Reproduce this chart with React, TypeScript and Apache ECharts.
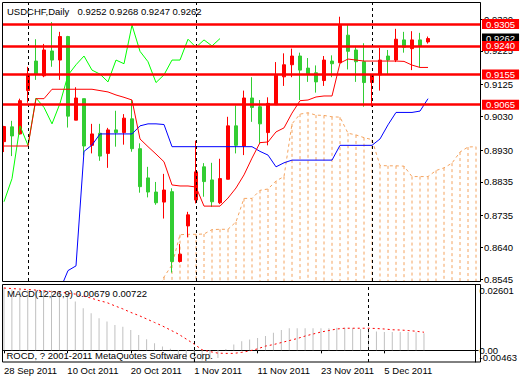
import React, { useEffect, useRef } from "react";
import * as echarts from "echarts";

const FONT = "'Liberation Sans', Arial, sans-serif";
const FS = 9.5;

const dates = [
  "28 Sep 2011", "29 Sep 2011", "30 Sep 2011", "3 Oct 2011", "4 Oct 2011", "5 Oct 2011", "6 Oct 2011", "7 Oct 2011",
  "10 Oct 2011", "11 Oct 2011", "12 Oct 2011", "13 Oct 2011", "14 Oct 2011", "17 Oct 2011", "18 Oct 2011", "19 Oct 2011",
  "20 Oct 2011", "21 Oct 2011", "24 Oct 2011", "25 Oct 2011", "26 Oct 2011", "27 Oct 2011", "28 Oct 2011", "31 Oct 2011",
  "1 Nov 2011", "2 Nov 2011", "3 Nov 2011", "4 Nov 2011", "7 Nov 2011", "8 Nov 2011", "9 Nov 2011", "10 Nov 2011",
  "11 Nov 2011", "14 Nov 2011", "15 Nov 2011", "16 Nov 2011", "17 Nov 2011", "18 Nov 2011", "21 Nov 2011", "22 Nov 2011",
  "23 Nov 2011", "24 Nov 2011", "25 Nov 2011", "28 Nov 2011", "29 Nov 2011", "30 Nov 2011", "1 Dec 2011", "2 Dec 2011",
  "5 Dec 2011", "6 Dec 2011", "7 Dec 2011", "8 Dec 2011", "9 Dec 2011", "12 Dec 2011",
  "13 Dec 2011", "14 Dec 2011", "15 Dec 2011", "16 Dec 2011", "19 Dec 2011", "20 Dec 2011",
];
const lastBarIndex = 53;

const opens = [
  0.8955, 0.8999, 0.8978, 0.9107, 0.9195, 0.9151, 0.9225, 0.9198, 0.9268, 0.9019,
  0.9083, 0.8944, 0.8980, 0.8920, 0.8990, 0.8982, 0.9023, 0.8934, 0.8847, 0.8805,
  0.8775, 0.8806, 0.8598, 0.8704, 0.8781, 0.8880, 0.8841, 0.8773, 0.8843, 0.9002,
  0.8942, 0.9085, 0.9059, 0.8982, 0.9065, 0.9148, 0.9184, 0.9210, 0.9174, 0.9160,
  0.9137, 0.9195, 0.9190, 0.9272, 0.9228, 0.9193, 0.9131, 0.9154, 0.9210, 0.9198,
  0.9258, 0.9232, 0.9258, 0.9252,
];
const closes = [
  0.9000, 0.8972, 0.9077, 0.9156, 0.9156, 0.9228, 0.9198, 0.9268, 0.9031, 0.9085,
  0.8942, 0.8978, 0.8912, 0.8990, 0.8982, 0.9025, 0.8934, 0.8821, 0.8805, 0.8773,
  0.8811, 0.8598, 0.8620, 0.8737, 0.8865, 0.8836, 0.8776, 0.8845, 0.9002, 0.8944,
  0.9085, 0.9057, 0.9008, 0.9069, 0.9153, 0.9184, 0.9210, 0.9168, 0.9156, 0.9133,
  0.9198, 0.9187, 0.9302, 0.9224, 0.9193, 0.9131, 0.9154, 0.9198, 0.9198, 0.9260,
  0.9236, 0.9258, 0.9240, 0.9262,
];
const lows = [
  0.8924, 0.8912, 0.8976, 0.9071, 0.9139, 0.9147, 0.9178, 0.9139, 0.8997, 0.9019,
  0.8914, 0.8920, 0.8898, 0.8877, 0.8940, 0.8946, 0.8925, 0.8803, 0.8789, 0.8767,
  0.8726, 0.8565, 0.8595, 0.8670, 0.8771, 0.8791, 0.8761, 0.8769, 0.8843, 0.8920,
  0.8915, 0.9014, 0.8950, 0.8944, 0.9065, 0.9121, 0.9147, 0.9079, 0.9133, 0.9101,
  0.9121, 0.9147, 0.9190, 0.9170, 0.9133, 0.9059, 0.9059, 0.9107, 0.9156, 0.9192,
  0.9220, 0.9168, 0.9176, 0.9247,
];
const highs = [
  0.9002, 0.9017, 0.9083, 0.9178, 0.9260, 0.9246, 0.9311, 0.9282, 0.9270, 0.9117,
  0.9083, 0.9008, 0.9008, 0.8996, 0.9047, 0.9037, 0.9079, 0.8950, 0.8880, 0.8835,
  0.8859, 0.8816, 0.8650, 0.8746, 0.8958, 0.8891, 0.8892, 0.8904, 0.9029, 0.9063,
  0.9107, 0.9147, 0.9079, 0.9087, 0.9192, 0.9218, 0.9232, 0.9220, 0.9204, 0.9182,
  0.9210, 0.9212, 0.9327, 0.9303, 0.9240, 0.9248, 0.9154, 0.9234, 0.9228, 0.9291,
  0.9282, 0.9284, 0.9279, 0.9268,
];

// Ichimoku lines
const tenkan = [
  0.8942, 0.8942, 0.8942, 0.8942, 0.9083, 0.9083, 0.9111, 0.9111, 0.9111, 0.9111,
  0.9111, 0.9111, 0.9107, 0.9103, 0.9094, 0.9087, 0.9079, 0.8963, 0.8940, 0.8918,
  0.8895, 0.8826, 0.8823, 0.8823, 0.8820, 0.8763, 0.8763, 0.8763, 0.8787, 0.8817,
  0.8856, 0.8906, 0.8952, 0.8954, 0.8984, 0.8996, 0.9040, 0.9077, 0.9079, 0.9088,
  0.9091, 0.9091, 0.9189, 0.9201, 0.9198, 0.9195, 0.9195, 0.9195, 0.9195, 0.9195,
  0.9194, 0.9183, 0.9176, 0.9176,
];
const kijun = [
  null, null, null, null, null, null, null, 0.8514, 0.8571, 0.8585,
  0.8926, 0.8945, 0.8978, 0.8978, 0.8978, 0.8978, 0.8978, 0.9002, 0.9008, 0.9008,
  0.9006, 0.8940, 0.8940, 0.8940, 0.8940, 0.8940, 0.8940, 0.8940, 0.8940, 0.8940,
  0.8940, 0.8940, 0.8926, 0.8915, 0.8880, 0.8892, 0.8900, 0.8900, 0.8900, 0.8900,
  0.8900, 0.8900, 0.8944, 0.8944, 0.8944, 0.8944, 0.8944, 0.8963, 0.9005, 0.9042,
  0.9042, 0.9042, 0.9046, 0.9083,
];
const spanA = [
  null, null, null, null, null, null, null, null, null, null,
  null, null, null, null, null, null, null, null, null, 0.8500,
  0.8552, 0.8588, 0.8678, 0.8679, 0.8679, 0.8680, 0.8693, 0.8694, 0.8694, 0.8716,
  0.8786, 0.8786, 0.8810, 0.8814, 0.8838, 0.8851, 0.9008, 0.9037, 0.9041, 0.9034,
  0.9033, 0.9029, 0.9028, 0.8980, 0.8975, 0.8967, 0.8961, 0.8884, 0.8883, 0.8883,
  0.8882, 0.8851, 0.8851, 0.8851, 0.8869, 0.8877, 0.8891, 0.8924, 0.8939, 0.8940,
];
const chikouShift = 26;

const macdHist = [
  0.0250, 0.0242, 0.0240, 0.0240, 0.0240, 0.0240, 0.0238, 0.0232, 0.0220, 0.0194,
  0.0168, 0.0148, 0.0128, 0.0115, 0.0101, 0.0094, 0.0081, 0.0061, 0.0044, 0.0028,
  0.0015, 0.0006, -0.0025, -0.0038, -0.0046, -0.0040, -0.0035, -0.0030, 0.0005, 0.0023,
  0.0036, 0.0043, 0.0049, 0.0057, 0.0070, 0.0081, 0.0088, 0.0088, 0.0088, 0.0088,
  0.0088, 0.0088, 0.0090, 0.0090, 0.0088, 0.0085, 0.0081, 0.0075, 0.0073, 0.0073,
  0.0073, 0.0073, 0.0072, 0.00679,
];
const macdSignal = [
  0.0248, 0.0246, 0.0244, 0.0242, 0.0240, 0.0237, 0.0234, 0.0232, 0.0228, 0.0224,
  0.0216, 0.0208, 0.0198, 0.0190, 0.0177, 0.0165, 0.0151, 0.0139, 0.0125, 0.0111,
  0.0097, 0.0081, 0.0065, 0.0045, 0.0025, 0.0002, -0.0005, -0.0011, -0.0012, -0.0012,
  -0.0008, -0.0002, 0.0006, 0.0017, 0.0023, 0.0031, 0.0039, 0.0047, 0.0057, 0.0065,
  0.0073, 0.0079, 0.0085, 0.0088, 0.0088, 0.0088, 0.0088, 0.0087, 0.0085, 0.0082,
  0.0081, 0.0079, 0.0076, 0.00722,
];

const levels = [0.9305, 0.924, 0.9155, 0.9065];
const lastPrice = 0.9262;
const priceTicks = [0.8545, 0.864, 0.8735, 0.8835, 0.893, 0.903, 0.9125, 0.9225, 0.932];
const priceMin = 0.854;
const priceMax = 0.93679;
const macdMin = -0.00463;
const macdMax = 0.02601;
const macdTop = [0.02601];
const macdZero = [0];
const macdBottom = [-0.00463];
const separatorsMain = ["3 Oct 2011", "1 Nov 2011", "1 Dec 2011"];
const separatorsMacd = ["1 Nov 2011", "1 Dec 2011"];
const symbolName = "USDCHF,Daily";
const lastOHLC = [0.9252, 0.9268, 0.9247, 0.9262];
const macdTitle = "MACD(12,26,9) 0.00679 0.00722";
const copyright = "ROCD, ? 2001-2011 MetaQuotes Software Corp.";

function buildOption() {
  const candles = opens.map((o, i) => [o, closes[i], lows[i], highs[i]]);
  const chikou = closes.slice(chikouShift);
  const hatch = spanA
    .map((v, i) => [i, v])
    .filter((d) => d[1] != null && (d[1] as number) > priceMin);
  const labelFn = (idx: number) => idx % 8 === 0 && idx <= lastBarIndex;
  const sepStyle = { color: "#000", width: 1, type: [3, 3] as any };
  const txt = { fontFamily: FONT, fontSize: FS, color: "#000" };

  const boxLabel = (bg: string) => ({
    show: true,
    position: "end",
    distance: 2,
    formatter: (p: any) => Number(p.value).toFixed(4),
    backgroundColor: bg,
    color: "#fff",
    fontFamily: FONT,
    fontSize: FS,
    lineHeight: 10,
    padding: [0, 4, 0, 4],
  });

  return {
    animation: false,
    backgroundColor: "#fff",
    grid: [
      { left: 0, top: 3, width: 480, height: 278 },
      { left: 0, top: 285, width: 480, height: 77 },
    ],
    xAxis: [
      { type: "category", gridIndex: 0, data: dates, show: false },
      {
        type: "category",
        gridIndex: 1,
        data: dates,
        axisLine: { show: true, lineStyle: { color: "#000", width: 1 } },
        axisTick: { show: true, interval: labelFn, alignWithLabel: true, length: 3, lineStyle: { color: "#000" } },
        axisLabel: { ...txt, interval: labelFn, align: "left", margin: 3, formatter: (v: string) => v },
        splitLine: { show: false },
      },
    ],
    yAxis: [
      {
        type: "value",
        gridIndex: 0,
        position: "right",
        min: priceMin,
        max: priceMax,
        splitLine: { show: false },
        axisLine: { show: true, lineStyle: { color: "#000" } },
        axisTick: { show: true, customValues: priceTicks, length: 3, lineStyle: { color: "#000" } },
        axisLabel: { ...txt, customValues: priceTicks, margin: 4, formatter: (v: number) => v.toFixed(4) },
      },
      {
        type: "value",
        gridIndex: 1,
        position: "right",
        min: macdMin,
        max: macdMax,
        splitLine: { show: false },
        axisLine: { show: true, lineStyle: { color: "#000" } },
        axisTick: { show: true, customValues: macdZero, length: 3, lineStyle: { color: "#000" } },
        axisLabel: { ...txt, customValues: macdZero, margin: 4, formatter: () => "0.00" },
      },
      {
        type: "value",
        gridIndex: 1,
        position: "right",
        min: macdMin,
        max: macdMax,
        splitLine: { show: false },
        axisLine: { show: false },
        axisTick: { show: false },
        axisLabel: { ...txt, customValues: macdTop, margin: 4, verticalAlign: "top", formatter: (v: number) => v.toFixed(5) },
      },
      {
        type: "value",
        gridIndex: 1,
        position: "right",
        min: macdMin,
        max: macdMax,
        splitLine: { show: false },
        axisLine: { show: false },
        axisTick: { show: false },
        axisLabel: { ...txt, customValues: macdBottom, margin: 4, verticalAlign: "bottom", formatter: (v: number) => v.toFixed(5) },
      },
    ],
    series: [
      {
        type: "line",
        name: "sepMain",
        xAxisIndex: 0,
        yAxisIndex: 0,
        data: [],
        z: 1,
        silent: true,
        markLine: {
          silent: true,
          symbol: ["none", "none"],
          label: { show: false },
          lineStyle: sepStyle,
          data: separatorsMain.map((d) => ({ xAxis: d })),
        },
      },
      {
        type: "custom",
        name: "cloudHatch",
        xAxisIndex: 0,
        yAxisIndex: 0,
        z: 2,
        clip: true,
        silent: true,
        data: hatch,
        encode: { x: 0, y: 1 },
        renderItem: (params: any, api: any) => {
          const top = api.coord([api.value(0), api.value(1)]);
          const bot = api.coord([api.value(0), priceMin]);
          return {
            type: "line",
            shape: { x1: top[0], y1: top[1], x2: top[0], y2: bot[1] },
            style: { stroke: "#f4a460", lineWidth: 1, lineDash: [3, 3] },
          };
        },
      },
      {
        type: "line",
        name: "spanA",
        xAxisIndex: 0,
        yAxisIndex: 0,
        data: spanA,
        z: 2,
        symbol: "none",
        connectNulls: false,
        lineStyle: { color: "#f4a460", width: 1, type: [3, 3] },
      },
      {
        type: "candlestick",
        xAxisIndex: 0,
        yAxisIndex: 0,
        data: candles,
        z: 3,
        barWidth: 4,
        itemStyle: {
          color: "#ff0000",
          color0: "#32cd32",
          borderColor: "#ff0000",
          borderColor0: "#32cd32",
          borderWidth: 1,
        },
      },
      {
        type: "line",
        name: "chikou",
        xAxisIndex: 0,
        yAxisIndex: 0,
        data: chikou,
        z: 4,
        symbol: "none",
        lineStyle: { color: "#00ff00", width: 1 },
      },
      {
        type: "line",
        name: "kijun",
        xAxisIndex: 0,
        yAxisIndex: 0,
        data: kijun,
        z: 4,
        symbol: "none",
        lineStyle: { color: "#0000ff", width: 1 },
      },
      {
        type: "line",
        name: "tenkan",
        xAxisIndex: 0,
        yAxisIndex: 0,
        data: tenkan,
        z: 4,
        symbol: "none",
        lineStyle: { color: "#ff0000", width: 1 },
      },
      {
        type: "line",
        name: "levels",
        xAxisIndex: 0,
        yAxisIndex: 0,
        data: [],
        z: 5,
        markLine: {
          silent: true,
          precision: 4,
          symbol: ["none", "none"],
          data: [
            { yAxis: lastPrice, lineStyle: { color: "rgba(0,0,0,0)", width: 0 }, label: boxLabel("#000") },
            ...levels.map((v) => ({
              yAxis: v,
              lineStyle: { color: "#ff0000", width: 2.5, type: "solid" },
              label: boxLabel("#ff0000"),
            })),
          ],
        },
      },
      {
        type: "line",
        name: "sepMacd",
        xAxisIndex: 1,
        yAxisIndex: 1,
        data: [],
        z: 1,
        markLine: {
          silent: true,
          symbol: ["none", "none"],
          label: { show: false },
          lineStyle: sepStyle,
          data: separatorsMacd.map((d) => ({ xAxis: d })),
        },
      },
      {
        type: "bar",
        name: "macd",
        xAxisIndex: 1,
        yAxisIndex: 1,
        data: macdHist,
        barWidth: 1,
        z: 2,
        itemStyle: { color: "#c0c0c0" },
      },
      {
        type: "line",
        name: "signal",
        xAxisIndex: 1,
        yAxisIndex: 1,
        data: macdSignal,
        z: 3,
        symbol: "none",
        lineStyle: { color: "#ff0000", width: 1, type: [2, 3] },
      },
    ],
    graphic: [
      { type: "rect", z: 100, silent: true, shape: { x: 0, y: 0, width: 2.5, height: 380 }, style: { fill: "#fff" } },
      { type: "rect", z: 101, silent: true, shape: { x: 2.5, y: 2.5, width: 478, height: 279 }, style: { fill: "none", stroke: "#000", lineWidth: 1 } },
      { type: "rect", z: 101, silent: true, shape: { x: 2.5, y: 284.5, width: 478, height: 77.5 }, style: { fill: "none", stroke: "#000", lineWidth: 1 } },
      { type: "text", z: 102, silent: true, style: { text: symbolName, x: 7, y: 11, fill: "#000", font: `${FS}px ${FONT}`, verticalAlign: "middle", align: "left" } },
      { type: "text", z: 102, silent: true, style: { text: lastOHLC.map((v) => v.toFixed(4)).join(" "), x: 77.5, y: 11, fill: "#000", font: `${FS}px ${FONT}`, verticalAlign: "middle", align: "left" } },
      { type: "text", z: 102, silent: true, style: { text: macdTitle, x: 7, y: 293, fill: "#000", font: `${FS}px ${FONT}`, verticalAlign: "middle", align: "left" } },
      { type: "text", z: 102, silent: true, style: { text: copyright, x: 6.5, y: 355, fill: "#000", font: `${FS}px ${FONT}`, verticalAlign: "middle", align: "left" } },
    ],
  };
}

export default function App() {
  const ref = useRef<HTMLDivElement>(null);
  useEffect(() => {
    document.body.style.margin = "0";
    const chart = echarts.init(ref.current as HTMLDivElement, null, { renderer: "svg" });
    chart.setOption(buildOption() as any);
    return () => chart.dispose();
  }, []);
  return <div ref={ref} style={{ width: 520, height: 380, background: "#fff" }} />;
}
